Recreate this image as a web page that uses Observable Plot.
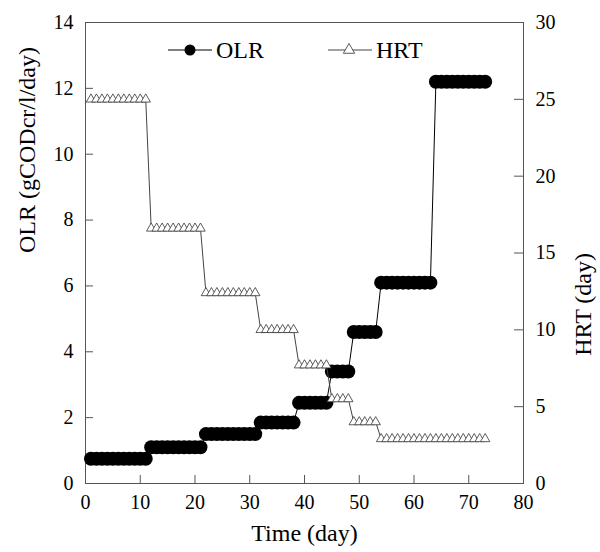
<!DOCTYPE html>
<html>
<head>
<meta charset="utf-8">
<script src="https://cdn.jsdelivr.net/npm/d3@7"></script>
<script src="https://cdn.jsdelivr.net/npm/@observablehq/plot@0.6"></script>
<style>
  html, body { margin: 0; padding: 0; background: white; }
  svg text { font-family: "Liberation Serif", "Times New Roman", serif !important; }
</style>
</head>
<body>
<div id="chart"></div>
<script>
const days = [1,2,3,4,5,6,7,8,9,10,11,12,13,14,15,16,17,18,19,20,21,22,23,24,25,26,27,28,29,30,31,32,33,34,35,36,37,38,39,40,41,42,43,44,45,46,47,48,49,50,51,52,53,54,55,56,57,58,59,60,61,62,63,64,65,66,67,68,69,70,71,72,73];
const olr = [
  0.75,0.75,0.75,0.75,0.75,0.75,0.75,0.75,0.75,0.75,0.75,
  1.1,1.1,1.1,1.1,1.1,1.1,1.1,1.1,1.1,1.1,
  1.5,1.5,1.5,1.5,1.5,1.5,1.5,1.5,1.5,1.5,
  1.85,1.85,1.85,1.85,1.85,1.85,1.85,
  2.45,2.45,2.45,2.45,2.45,2.45,
  3.4,3.4,3.4,3.4,
  4.6,4.6,4.6,4.6,4.6,
  6.1,6.1,6.1,6.1,6.1,6.1,6.1,6.1,6.1,6.1,
  12.2,12.2,12.2,12.2,12.2,12.2,12.2,12.2,12.2,12.2
];
const hrt = [
  25,25,25,25,25,25,25,25,25,25,25,
  16.6,16.6,16.6,16.6,16.6,16.6,16.6,16.6,16.6,16.6,
  12.4,12.4,12.4,12.4,12.4,12.4,12.4,12.4,12.4,12.4,
  10,10,10,10,10,10,10,
  7.7,7.7,7.7,7.7,7.7,7.7,
  5.5,5.5,5.5,5.5,
  4.0,4.0,4.0,4.0,4.0,
  2.9,2.9,2.9,2.9,2.9,2.9,2.9,2.9,2.9,2.9,2.9,2.9,2.9,2.9,2.9,2.9,2.9,2.9,2.9,2.9
];
const xTicks = [0,10,20,30,40,50,60,70,80];
const olrTicks = [0,2,4,6,8,10,12,14];
const hrtTicks = [0,5,10,15,20,25,30];
const xTitle = "Time (day)";
const yLeftTitle = "OLR (gCODcr/l/day)";
const yRightTitle = "HRT (day)";
const seriesNames = ["OLR", "HRT"];

const W = 600, H = 552, mL = 85, mR = 77, mT = 22, mB = 69;
const pw = W - mL - mR, ph = H - mT - mB;
const k = 14 / 30; // HRT -> left-axis units
const font = "Liberation Serif";

const olrData = days.map((d, i) => ({day: d, v: olr[i]}));
const hrtData = days.map((d, i) => ({day: d, v: hrt[i]}));

const chart = Plot.plot({
  width: W, height: H,
  marginLeft: mL, marginRight: mR, marginTop: mT, marginBottom: mB,
  style: {fontFamily: font, background: "white", color: "black"},
  x: {domain: [0, 80]},
  y: {domain: [0, 14]},
  marks: [
    Plot.frame({stroke: "#555"}),
    Plot.axisX(xTicks, {tickSize: 0, tickPadding: 11, fontSize: 20, fontFamily: font, label: null}),
    Plot.axisY(olrTicks, {anchor: "left", tickSize: 0, tickPadding: 12, fontSize: 20, fontFamily: font, label: null}),
    Plot.axisY(hrtTicks.map(v => v * k), {anchor: "right", tickSize: 0, tickPadding: 12, fontSize: 20, fontFamily: font, label: null, tickFormat: d => String(Math.round(d / k))}),
    Plot.tickY(olrTicks, {y: d => d, insetRight: pw - 8, stroke: "#555"}),
    Plot.tickY(hrtTicks.map(v => v * k), {y: d => d, insetLeft: pw - 9, stroke: "#555"}),
    Plot.tickX(xTicks, {x: d => d, insetTop: ph - 8, stroke: "#555"}),
    Plot.line(olrData, {x: "day", y: "v", stroke: "black", strokeWidth: 1}),
    Plot.dot(olrData, {x: "day", y: "v", r: 7, fill: "black", stroke: "none"}),
    Plot.line(hrtData, {x: "day", y: d => d.v * k, stroke: "#444", strokeWidth: 1}),
    Plot.dot(hrtData, {x: "day", y: d => d.v * k, symbol: "triangle", r: 3.5, fill: "white", stroke: "#333", strokeWidth: 0.8}),
    Plot.text([xTitle], {frameAnchor: "bottom", dy: 50, fontSize: 24, fontFamily: font, text: d => d, lineAnchor: "middle"}),
    Plot.text([yLeftTitle], {frameAnchor: "left", dx: -58, rotate: -90, fontSize: 24, fontFamily: font, text: d => d}),
    Plot.text([yRightTitle], {frameAnchor: "right", dx: 60, rotate: -90, fontSize: 24, fontFamily: font, text: d => d})
  ]
});

// Legend drawn inside the plot area
const svg = d3.select(chart);
const lg = svg.append("g").attr("font-family", font).attr("font-size", 24).attr("text-anchor", "start");
const ly = 50;
// OLR entry
lg.append("line").attr("x1", 168).attr("x2", 212).attr("y1", ly).attr("y2", ly).attr("stroke", "black");
lg.append("circle").attr("cx", 190).attr("cy", ly).attr("r", 5.5).attr("fill", "black");
lg.append("text").attr("x", 216).attr("y", ly).attr("dy", "0.34em").text(seriesNames[0]);
// HRT entry
lg.append("line").attr("x1", 328).attr("x2", 372).attr("y1", ly).attr("y2", ly).attr("stroke", "#444");
lg.append("path").attr("transform", `translate(349,${ly})`)
  .attr("d", d3.symbol(d3.symbolTriangle, Math.PI * 4.2 * 4.2)())
  .attr("fill", "white").attr("stroke", "#333").attr("stroke-width", 0.8);
lg.append("text").attr("x", 376).attr("y", ly).attr("dy", "0.34em").text(seriesNames[1]);

document.getElementById("chart").appendChild(chart);
</script>
</body>
</html>
